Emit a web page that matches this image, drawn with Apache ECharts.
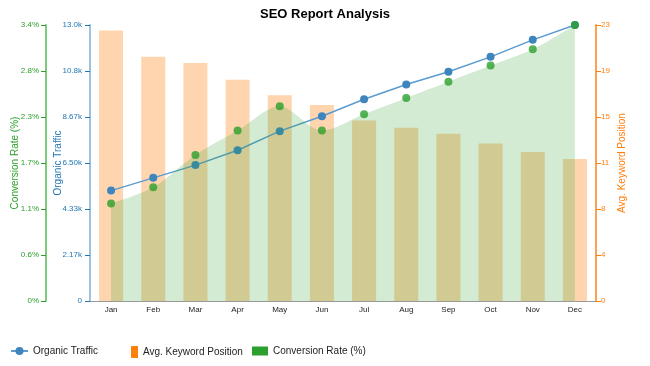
<!DOCTYPE html>
<html>
<head>
<meta charset="utf-8">
<script src="https://cdn.jsdelivr.net/npm/echarts@6/dist/echarts.min.js"></script>
<style>html,body{margin:0;padding:0;background:#fff}#c{width:650px;height:366px}</style>
</head>
<body>
<div id="c"></div>
<script>
var months = ['Jan','Feb','Mar','Apr','May','Jun','Jul','Aug','Sep','Oct','Nov','Dec'];
var organicTraffic = [5200, 5800, 6400, 7100, 8000, 8700, 9500, 10200, 10800, 11500, 12300, 13000];
var keywordPosition = [22.5, 20.3, 19.8, 18.4, 17.1, 16.3, 15.0, 14.4, 13.9, 13.1, 12.4, 11.8];
var conversionRate = [1.2, 1.4, 1.8, 2.1, 2.4, 2.1, 2.3, 2.5, 2.7, 2.9, 3.1, 3.4];
var trafficMax = 13000, convMax = 3.4, posMax = 22.95;

var chart = echarts.init(document.getElementById('c'));
var ff = 'Liberation Sans, Arial, sans-serif';
chart.setOption({
  animation: false,
  textStyle: {fontFamily: ff},
  title: {text: 'SEO Report Analysis', left: 'center', top: 3,
    textStyle: {fontSize: 13, fontWeight: 'bold', color: '#000', fontFamily: ff}},
  grid: {left: 90, right: 54, top: 25, bottom: 65, containLabel: false, outerBoundsMode: 'none'},
  legend: [
    {left: 5, top: 341, itemWidth: 17, itemHeight: 10,
     textStyle: {fontSize: 10, color: '#222'}, data: ['Organic Traffic']},
    {left: 126, top: 341, itemWidth: 7, itemHeight: 12, icon: 'rect',
     textStyle: {fontSize: 10, color: '#222'},
     data: [{name: 'Avg. Keyword Position', itemStyle: {color: '#ff7f0e', opacity: 1}}]},
    {left: 247, top: 341, itemWidth: 16, itemHeight: 9, icon: 'rect',
     textStyle: {fontSize: 10, color: '#222'},
     data: [{name: 'Conversion Rate (%)', itemStyle: {color: '#2ca02c', opacity: 1}}]}
  ],
  xAxis: {type: 'category', data: months, boundaryGap: true,
    axisLine: {lineStyle: {color: '#999'}},
    axisTick: {alignWithLabel: true, length: 5, lineStyle: {color: '#999'}},
    axisLabel: {fontSize: 8, color: '#222', margin: 5}},
  yAxis: [
    {type: 'value', position: 'left', min: 0, max: trafficMax, interval: trafficMax / 6,
     name: 'Organic Traffic', nameLocation: 'middle', nameGap: 27, nameRotate: 90, nameMoveOverlap: false,
     nameTextStyle: {color: '#1f77b4', fontSize: 10},
     axisLine: {show: true, lineStyle: {color: '#9cc3e0', width: 2}},
     axisTick: {show: true, length: 5, lineStyle: {color: '#1f77b4'}},
     axisLabel: {fontSize: 8, color: '#1f77b4', margin: 8,
       formatter: function (v) { return v === 0 ? '0' : (v / 1000).toPrecision(3) + 'k'; }},
     splitLine: {show: false}},
    {type: 'value', position: 'right', min: 0, max: posMax, interval: posMax / 6,
     name: 'Avg. Keyword Position', nameLocation: 'middle', nameGap: 21, nameRotate: 90, nameMoveOverlap: false,
     nameTextStyle: {color: '#ff7f0e', fontSize: 10},
     axisLine: {show: true, lineStyle: {color: '#ffa04d', width: 2}},
     axisTick: {show: true, length: 5, lineStyle: {color: '#ff7f0e'}},
     axisLabel: {fontSize: 8, color: '#ff7f0e', margin: 5,
       formatter: function (v) { return String(Math.round(v)); }},
     splitLine: {show: false}},
    {type: 'value', position: 'left', offset: 44, min: 0, max: convMax, interval: convMax / 6,
     name: 'Conversion Rate (%)', nameLocation: 'middle', nameGap: 26, nameRotate: 90, nameMoveOverlap: false,
     nameTextStyle: {color: '#2ca02c', fontSize: 10},
     axisLine: {show: true, lineStyle: {color: '#7ccc7c', width: 2}},
     axisTick: {show: true, length: 5, lineStyle: {color: '#2ca02c'}},
     axisLabel: {fontSize: 8, color: '#2ca02c', margin: 7,
       formatter: function (v) { return v === 0 ? '0%' : v.toFixed(1) + '%'; }},
     splitLine: {show: false}}
  ],
  series: [
    {name: 'Organic Traffic', type: 'line', yAxisIndex: 0, data: organicTraffic, z: 4,
     symbol: 'circle', symbolSize: 8,
     lineStyle: {color: '#5a9bd0', width: 1.5},
     itemStyle: {color: '#3f85bd'}},
    {name: 'Avg. Keyword Position', type: 'bar', yAxisIndex: 1, data: keywordPosition, z: 1,
     barWidth: 24, itemStyle: {color: 'rgba(255,127,14,0.33)'}},
    {name: 'Conversion Rate (%)', type: 'line', yAxisIndex: 2, data: conversionRate, z: 5,
     smooth: 0.3, symbol: 'circle', symbolSize: 8,
     lineStyle: {width: 0},
     areaStyle: {color: 'rgba(44,160,44,0.3)'},
     itemStyle: {color: 'rgba(44,160,44,0.8)'}}
  ]
});
</script>
</body>
</html>
